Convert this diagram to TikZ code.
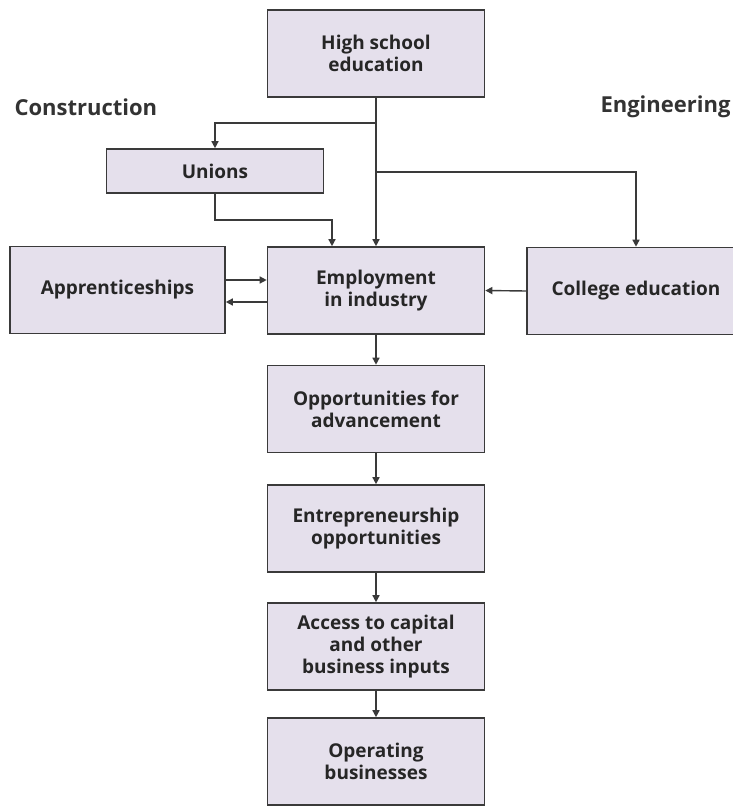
\documentclass[tikz,border=0pt]{standalone}
\usepackage{fontspec}
\setmainfont{Open Sans}
\usetikzlibrary{arrows.meta}

\definecolor{boxfill}{HTML}{E5E0EC}
\definecolor{boxline}{HTML}{3A3A3A}

\tikzset{
  stagebox/.style={draw=boxline, line width=1.6pt, fill=boxfill,
    minimum width=217pt, minimum height=87pt, align=center,
    font=\fontsize{19}{22}\selectfont\bfseries, text=black!85},
  sidelabel/.style={anchor=west, font=\fontsize{22}{24}\selectfont\bfseries, text=black!80},
  arr/.style={draw=boxline, line width=1.4pt, -{Triangle[width=7pt,length=7pt]}}
}

\begin{document}
\begin{tikzpicture}[x=1pt,y=-1pt]
      \useasboundingbox (0,0) rectangle (732,808);

      \node[stagebox] (high) at (376,53.5) {High school\\education};
      \node[stagebox, minimum height=44pt] (unions) at (215,171) {Unions};
      \node[stagebox, minimum width=215pt] (appr) at (117.5,290) {Apprenticeships};
      \node[stagebox] (emp) at (376,290.5) {Employment\\in industry};
      \node[stagebox, minimum width=218pt] (college) at (636,291) {College education};
      \node[stagebox] (opp) at (376,409) {Opportunities for\\advancement};
      \node[stagebox] (entr) at (376,528.5) {Entrepreneurship\\opportunities};
      \node[stagebox] (access) at (376,646.5) {Access to capital\\and other\\business inputs};
      \node[stagebox] (oper) at (376,761.5) {Operating\\businesses};

      \node[sidelabel] (constr) at (11,107) {Construction};
      \node[sidelabel] (engin) at (597,107) {Engineering};

      % branches from high school
      \coordinate (split1) at (376,123);
      \coordinate (split2) at (376,172);
      \coordinate (ujoin) at (332,220);
      \draw[arr] (high.south) -- (emp.north);
      \draw[arr] (split1) -| (unions.north);
      \draw[arr] (split2) -| (college.north);
      \draw[arr] (unions.south) |- (ujoin) -- (ujoin |- emp.north);

      % side links
      \draw[arr] (appr.east |- 0,280) -- (emp.west |- 0,280);
      \draw[arr] (emp.west |- 0,302) -- (appr.east |- 0,302);
      \draw[arr] (college.west) -- (emp.east);

      \foreach \a/\b in {emp/opp, opp/entr, entr/access, access/oper}
        \draw[arr] (\a) -- (\b);
    \end{tikzpicture}
\end{document}
